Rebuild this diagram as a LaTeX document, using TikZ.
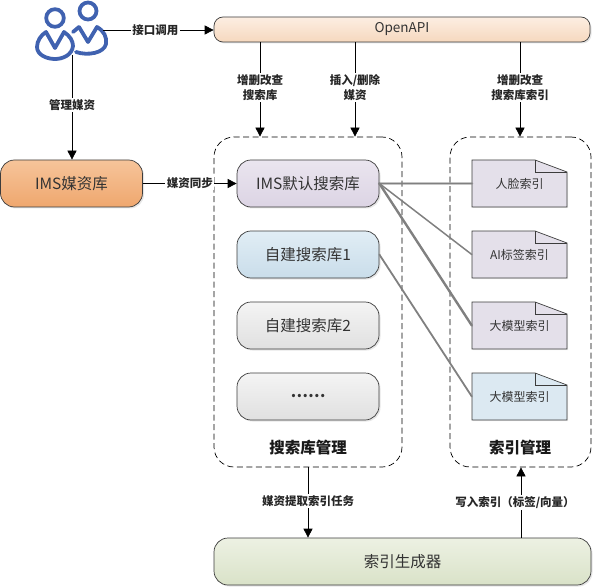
\documentclass[tikz,border=0pt]{standalone}
\usepackage{fontspec}
\setmainfont{Noto Sans CJK SC}
\usetikzlibrary{arrows.meta,shadows,calc}
\definecolor{edgegray}{HTML}{3C3C3C}
\definecolor{linkgray}{HTML}{808080}
\definecolor{userblue}{HTML}{4062B0}
\definecolor{apitop}{HTML}{FCEEE2}
\definecolor{apibot}{HTML}{F6D8BE}
\definecolor{imstop}{HTML}{F6C49A}
\definecolor{imsbot}{HTML}{EFA76E}
\definecolor{deftop}{HTML}{EAE5EF}
\definecolor{defbot}{HTML}{DCD4E4}
\definecolor{owntop}{HTML}{E1EDF5}
\definecolor{ownbot}{HTML}{C9DDEA}
\definecolor{graytop}{HTML}{F4F4F4}
\definecolor{graybot}{HTML}{E0E0E0}
\definecolor{gentop}{HTML}{EDF1E3}
\definecolor{genbot}{HTML}{D9E2C8}
\definecolor{docviolet}{HTML}{E4E0EA}
\definecolor{docblue}{HTML}{DCE9F2}
\tikzset{
  x=1pt,y=-1pt,
  pill/.style={draw=edgegray,line width=.7pt,rounded corners=14pt,minimum width=142pt,minimum height=47pt,inner sep=0pt,font=\fontsize{15.5}{15.5}\selectfont,text=black!80,
    drop shadow={opacity=.2,shadow xshift=1.5pt,shadow yshift=-1.5pt}},
  arr/.style={draw=black,line width=.7pt,-{Triangle[length=9pt,width=9pt]}},
  lbl/.style={fill=white,inner sep=1.5pt,font=\bfseries\fontsize{11.5}{15}\selectfont,align=center,text=black!85},
  zone/.style={draw=black,dashed,dash pattern=on 6pt off 3.5pt,line width=.7pt,rounded corners=20pt,inner sep=0pt},
  title/.style={font=\bfseries\fontsize{15.5}{15.5}\selectfont,text=black!90,inner sep=0pt},
  docbox/.style={minimum width=95pt,minimum height=47pt,inner sep=0pt,font=\fontsize{12}{12}\selectfont,text=black!80},
  docoutline/.style={draw=edgegray,line width=.7pt,fill=#1,drop shadow={opacity=.15,shadow xshift=1pt,shadow yshift=-1pt}},
  link/.style={draw=linkgray,line cap=round},
  person/.style={draw=userblue,line width=3.8pt,line cap=round,line join=round},
}
\newcommand{\docnode}[4]{%
  \path[docoutline=#4] (472,#2) -- (535,#2) -- (567,#2+12) -- (567,#2+47) -- (472,#2+47) -- cycle;
  \draw[edgegray,line width=.7pt] (535,#2) -- (535,#2+12) -- (567,#2+12);
  \node[docbox] (#1) at (519.5,#2+23.5) {\raisebox{-3pt}{#3}};
}
\begin{document}
\begin{tikzpicture}
\useasboundingbox (0,0) rectangle (594,588);
% dashed zones
\node[zone,minimum width=188pt,minimum height=330pt] (sbm) at (308,302) {};
\node[zone,minimum width=141pt,minimum height=330pt] (idx) at (520.5,302) {};
\node[title] (sbmt) at (308,448) {搜索库管理};
\node[title] (idxt) at (520,448) {索引管理};
% users icon
\node[inner sep=0pt,minimum width=72pt,minimum height=60pt] (users) at (71,30) {};
\draw[person] (88,11) circle (8.5);
\draw[person] (79,27) -- (88,42) -- (97,27) .. controls (104,31) and (107,37) .. (106,44) .. controls (104,53) and (88,56) .. (76,52);
\draw[person] (79,27) -- (73,32);
\draw[person] (55,18) circle (8.8);
\draw[person] (46,32) -- (55,48) -- (64,32) .. controls (70,36) and (73,41) .. (73,46) .. controls (72,55) and (63,59) .. (55,59) .. controls (47,59) and (37,55) .. (37,47) .. controls (37,41) and (41,35) .. (46,32) -- cycle;
% boxes
\node[pill,minimum width=376pt,minimum height=25pt,rounded corners=9pt,top color=apitop,bottom color=apibot,font=\fontsize{13.5}{13.5}\selectfont] (api) at (402,29.5) {OpenAPI};
\node[pill,top color=imstop,bottom color=imsbot] (ims) at (71.5,183.5) {IMS媒资库};
\node[pill,top color=deftop,bottom color=defbot] (def) at (308,183.5) {IMS默认搜索库};
\node[pill,top color=owntop,bottom color=ownbot] (own1) at (308,254.5) {自建搜索库1};
\node[pill,top color=graytop,bottom color=graybot] (own2) at (308,325.5) {自建搜索库2};
\node[pill,top color=graytop,bottom color=graybot] (more) at (308,396.5) {\bfseries ……};
\node[pill,minimum width=377pt,top color=gentop,bottom color=genbot] (gen) at (402.5,561.5) {索引生成器};
% index documents
\docnode{d1}{160}{人脸索引}{docviolet}
\docnode{d2}{231}{AI标签索引}{docviolet}
\docnode{d3}{302}{大模型索引}{docviolet}
\docnode{d4}{373}{大模型索引}{docblue}
% grey links
\draw[link,line width=3pt,opacity=.45] (def.east) -- (d1.west);
\draw[link,line width=1.6pt] (def.east) -- (d1.west);
\draw[link,line width=1.5pt] (def.east) -- (d2.west);
\draw[link,line width=2.4pt] (def.east) -- (d3.west);
\draw[link,line width=1.8pt] (own1.east) -- (d4.west);
% arrows
\coordinate (xa) at (260,0);
\coordinate (xb) at (355,0);
\coordinate (xc) at (520,0);
\coordinate (xd) at (308,0);
\coordinate (xe) at (521,0);
\coordinate (xu) at (72,0);
\coordinate (yu) at (0,30);
\draw[arr] (103,30 |- yu) -- (api.west |- yu) node[lbl,midway,xshift=-3pt] (l1) {接口调用};
\draw[arr] (xu |- 0,55) -- (xu |- ims.north) node[lbl,pos=.48] (l2) {管理媒资};
\draw[arr] (ims.east) -- (def.west) node[lbl,pos=.5] (l3) {媒资同步};
\draw[arr] (xa |- api.south) -- (xa |- sbm.north) node[lbl,pos=.48] (l4) {增删改查\\搜索库};
\draw[arr] (xb |- api.south) -- (xb |- sbm.north) node[lbl,pos=.48] (l5) {插入/删除\\媒资};
\draw[arr] (xc |- api.south) -- (xc |- idx.north) node[lbl,pos=.48] (l6) {增删改查\\搜索库索引};
\draw[arr] (xd |- sbm.south) -- (xd |- gen.north) node[lbl,pos=.48] (l7) {媒资提取索引任务};
\draw[arr] (xe |- gen.north) -- (xe |- idx.south) node[lbl,pos=.5,xshift=-6pt] (l8) {写入索引（标签/向量）};
\end{tikzpicture}
\end{document}
